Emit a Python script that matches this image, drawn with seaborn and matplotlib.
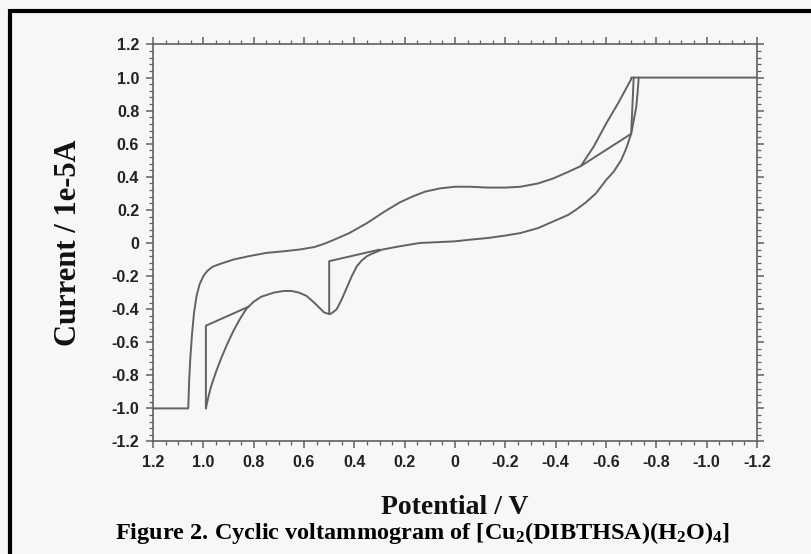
import matplotlib
matplotlib.use("Agg")
import matplotlib.pyplot as plt
import matplotlib.ticker as mticker
from matplotlib.lines import Line2D
import numpy as np
import pandas as pd
import seaborn as sns

# ---- data ----
forward_E = [1.20, 1.06, 1.057, 1.052, 1.045, 1.037, 1.027, 1.015, 1.00, 0.985, 0.965, 0.94,
             0.91, 0.88, 0.82, 0.75, 0.68, 0.62, 0.56, 0.52, 0.48, 0.42, 0.35, 0.28, 0.22,
             0.17, 0.12, 0.06, 0.00, -0.06, -0.13, -0.20, -0.26, -0.33, -0.39, -0.45, -0.50,
             -0.55, -0.60, -0.65, -0.70, -0.70, -1.20]
forward_I = [-1.00, -1.00, -0.85, -0.70, -0.55, -0.42, -0.32, -0.25, -0.20, -0.17, -0.145, -0.13,
             -0.115, -0.10, -0.08, -0.06, -0.05, -0.04, -0.025, -0.005, 0.02, 0.06, 0.12, 0.19, 0.245,
             0.28, 0.31, 0.33, 0.34, 0.34, 0.335, 0.335, 0.34, 0.36, 0.39, 0.43, 0.465,
             0.58, 0.72, 0.85, 0.99, 1.00, 1.00]

reverse_E = [-0.73, -0.725, -0.72, -0.71, -0.70, -0.68, -0.66, -0.63, -0.60, -0.56, -0.52,
             -0.48, -0.45, -0.39, -0.33, -0.26, -0.20, -0.13, -0.06, 0.00, 0.07, 0.14, 0.22,
             0.29, 0.33, 0.35, 0.37, 0.39, 0.41, 0.43, 0.45, 0.47, 0.49, 0.50, 0.52, 0.54,
             0.56, 0.59, 0.62, 0.65, 0.68, 0.72, 0.77, 0.80, 0.83, 0.855, 0.88, 0.905, 0.93,
             0.95, 0.97, 0.98, 0.99]
reverse_I = [1.00, 0.90, 0.82, 0.74, 0.66, 0.57, 0.50, 0.43, 0.38, 0.30, 0.245,
             0.20, 0.17, 0.13, 0.09, 0.06, 0.045, 0.03, 0.02, 0.01, 0.005, 0.00, -0.02,
             -0.04, -0.065, -0.08, -0.105, -0.14, -0.20, -0.27, -0.34, -0.40, -0.425, -0.43, -0.42, -0.39,
             -0.36, -0.32, -0.30, -0.29, -0.29, -0.30, -0.325, -0.355, -0.40, -0.46, -0.53, -0.61, -0.70,
             -0.78, -0.87, -0.93, -1.00]

chord1_E = [0.99, 0.99, 0.82]
chord1_I = [-1.00, -0.50, -0.385]
chord2_E = [0.50, 0.50, 0.30]
chord2_I = [-0.43, -0.11, -0.04]
chord3_E = [-0.50, -0.70, -0.71]
chord3_I = [0.465, 0.66, 1.00]

x_ticks = [1.2, 1.0, 0.8, 0.6, 0.4, 0.2, 0.0, -0.2, -0.4, -0.6, -0.8, -1.0, -1.2]
x_labels = ["1.2", "1.0", "0.8", "0.6", "0.4", "0.2", "0", "-0.2", "-0.4", "-0.6", "-0.8", "-1.0", "-1.2"]
y_ticks = [1.2, 1.0, 0.8, 0.6, 0.4, 0.2, 0.0, -0.2, -0.4, -0.6, -0.8, -1.0, -1.2]
y_labels = ["1.2", "1.0", "0.8", "0.6", "0.4", "0.2", "0", "-0.2", "-0.4", "-0.6", "-0.8", "-1.0", "-1.2"]

segments = {
    "forward": (forward_E, forward_I),
    "reverse": (reverse_E, reverse_I),
    "chord1": (chord1_E, chord1_I),
    "chord2": (chord2_E, chord2_I),
    "chord3": (chord3_E, chord3_I),
}
rows = []
for name, (es, is_) in segments.items():
    for k, (e, i) in enumerate(zip(es, is_)):
        rows.append({"seg": name, "order": k, "E": e, "I": i})
df = pd.DataFrame(rows)

# ---- style ----
sns.set_theme(style="ticks")
plt.rcParams["font.family"] = ["Liberation Sans", "DejaVu Sans"]
plt.rcParams["mathtext.fontset"] = "custom"
plt.rcParams["mathtext.rm"] = "Liberation Serif:bold"
plt.rcParams["mathtext.it"] = "Liberation Serif:bold"
plt.rcParams["mathtext.bf"] = "Liberation Serif:bold"

bg = "#f7f7f7"
fig = plt.figure(figsize=(8.11, 5.54), dpi=100, facecolor=bg)
ax = fig.add_axes([0.1887, 0.2031, 0.7447, 0.7166])
ax.set_facecolor(bg)

line_col = "#5e655e"
sns.lineplot(data=df, x="E", y="I", units="seg", estimator=None, sort=False,
             color=line_col, linewidth=1.4, ax=ax, legend=False)

ax.set_xlim(1.2, -1.2)
ax.set_ylim(-1.2, 1.2)
ax.xaxis.set_major_locator(mticker.FixedLocator(x_ticks))
ax.xaxis.set_major_formatter(mticker.FixedFormatter(x_labels))
ax.yaxis.set_major_locator(mticker.FixedLocator(y_ticks))
ax.yaxis.set_major_formatter(mticker.FixedFormatter(y_labels))
ax.xaxis.set_minor_locator(mticker.MultipleLocator(0.05))
ax.yaxis.set_minor_locator(mticker.MultipleLocator(0.04))

for s in ax.spines.values():
    s.set_visible(True)
    s.set_color("#606060")
    s.set_linewidth(1.2)

ax.tick_params(which="both", direction="out", top=True, right=True, colors="#606060")
ax.tick_params(which="major", length=5, width=1.1, labelsize=11.5, labelcolor="#222222", pad=5)
ax.tick_params(which="minor", length=3, width=0.9)
for lab in ax.get_xticklabels() + ax.get_yticklabels():
    lab.set_fontweight("bold")
ax.set_xlabel("")
ax.set_ylabel("")

# axis titles & caption
serif = ["Liberation Serif", "DejaVu Serif"]
fig.text(455 / 811, 1 - 508 / 554, "Potential / V", ha="center", va="center",
         fontsize=20, fontweight="bold", family=serif, color="#111111")
fig.text(68 / 811, 1 - 243 / 554, "Current / 1e-5A", ha="center", va="center",
         rotation=90, fontsize=22, fontweight="bold", family=serif, color="#111111")
fig.text(423 / 811, 1 - 533 / 554,
         r"Figure 2. Cyclic voltammogram of [Cu$_2$(DIBTHSA)(H$_2$O)$_4$]",
         ha="center", va="center", fontsize=17.5, fontweight="bold", family=serif, color="#000000")

# black frame (top and left)
fig.add_artist(Line2D([10 / 811, 1.0], [1 - 10.5 / 554, 1 - 10.5 / 554],
                      transform=fig.transFigure, color="black", linewidth=3,
                      solid_capstyle="butt"))
fig.add_artist(Line2D([10 / 811, 10 / 811], [0.0, 1 - 9 / 554],
                      transform=fig.transFigure, color="black", linewidth=3,
                      solid_capstyle="butt"))

fig.savefig("out.png", dpi=100, facecolor=bg)
